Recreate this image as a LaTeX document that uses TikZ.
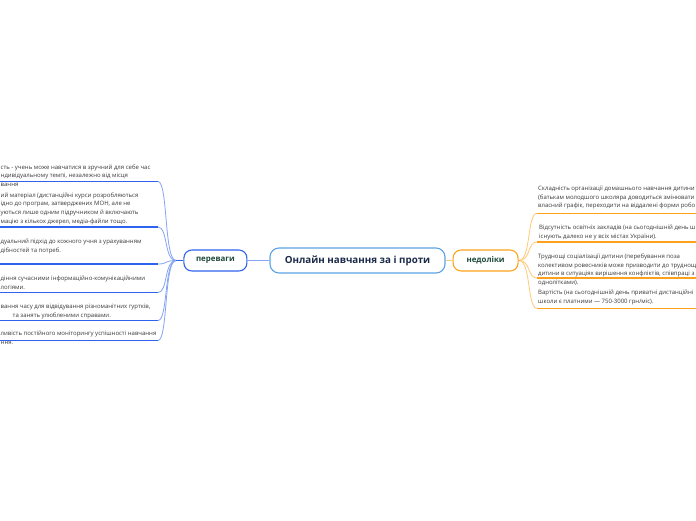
\documentclass[tikz,border=0pt]{standalone}
\usepackage{fontspec}
\setmainfont{Open Sans}
\usetikzlibrary{positioning}
\definecolor{ink}{HTML}{3A3A3A}
\definecolor{navy}{HTML}{1C2B4A}
\definecolor{leaf}{HTML}{1E4A3A}
\definecolor{rootline}{HTML}{5BA3E6}
\definecolor{problue}{HTML}{2F62EE}
\definecolor{prosoft}{HTML}{86A4F4}
\definecolor{conorange}{HTML}{FFA21A}
\definecolor{consoft}{HTML}{FFC977}
\tikzset{
  rootbox/.style={draw=rootline,line width=1.1pt,rounded corners=9pt,fill=white,minimum width=175pt,minimum height=25pt,inner sep=2pt,font=\fontsize{9.8}{11}\selectfont\bfseries,text=navy},
  probox/.style={draw=problue,line width=1.1pt,rounded corners=8pt,fill=white,minimum width=63pt,minimum height=21pt,inner sep=2pt,font=\fontsize{7.9}{9}\selectfont\bfseries,text=leaf},
  conbox/.style={probox,draw=conorange,minimum width=65pt},
  topic/.style={font=\fontsize{6}{8.7}\selectfont,text=ink,align=left,inner sep=0pt,anchor=base west},
  proline/.style={draw=problue,line width=1.5pt},
  procurve/.style={draw=prosoft,line width=0.8pt},
  conline/.style={draw=conorange,line width=1.5pt},
  concurve/.style={draw=consoft,line width=0.8pt},
}
\begin{document}
\begin{tikzpicture}[x=1pt,y=-1pt]
\fill[white] (0,0) rectangle (696,520);
\useasboundingbox (0,0) rectangle (696,520);

\node[rootbox] (root) at (357.5,260.5) {Онлайн навчання за і проти};
\node[probox,left=22pt of root] (pros) {переваги};
\node[conbox,right=7pt of root] (cons) {недоліки};

\coordinate (phub) at (176,260.5);
\coordinate (chub) at (519,260.5);

% переваги (topic nodes sit on the baseline of their last line)
\node[topic] (pt1) at (0.5,186.4) {сть - учень може навчатися в зручний для себе час\\ндивідуальному темпі, незалежно від місця\\вання};
\node[topic] (pt2) at (0.5,223.1) {ий матеріал (дистанційні курси розробляються\\ідно до програм, затверджених МОН, але не\\уються лише одним підручником й включають\\мацію з кількох джерел, медіа-файли тощо.};
\node[topic] (pt3) at (0.5,252.2) {дуальний підхід до кожного учня з урахуванням\\дібностей та потреб.};
\node[topic] (pt4) at (0.5,289.2) {діння сучасними інформаційно-комунікаційними\\логіями.};
\node[topic] (pt5) at (0.5,317.2) {вання часу для відвідування різноманітних гуртків,\\\hspace*{12pt}та занять улюбленими справами.};
\node[topic] (pt6) at (0.5,344.2) {ливість постійного моніторингу успішності навчання\\ння.};

\coordinate (pu1) at (0,181.5);   \coordinate (pk1) at (158,181.5);
\coordinate (pu2) at (0,227);     \coordinate (pk2) at (158,227);
\coordinate (pu3) at (0,264);     \coordinate (pk3) at (158,264);
\coordinate (pu4) at (0,292.5);   \coordinate (pk4) at (158,292.5);
\coordinate (pu5) at (0,320.5);   \coordinate (pk5) at (158,320.5);
\coordinate (pu6) at (0,340.5);   \coordinate (pk6) at (158,340.5);

\draw[proline] (pu1) -- (pk1);
\draw[proline] (pu2) -- (pk2);
\draw[proline] (pu3) -- (pk3);
\draw[proline] (pu4) -- (pk4);
\draw[proline] (pu5) -- (pk5);
\draw[proline] (pu6) -- (pk6);
\draw[procurve] (pk1) .. controls +(10,0) and +(-12,0) .. (phub);
\draw[procurve] (pk2) .. controls +(10,0) and +(-12,0) .. (phub);
\draw[procurve] (pk3) .. controls +(10,0) and +(-12,0) .. (phub);
\draw[procurve] (pk4) .. controls +(10,0) and +(-12,0) .. (phub);
\draw[procurve] (pk5) .. controls +(10,0) and +(-12,0) .. (phub);
\draw[procurve] (pk6) .. controls +(10,0) and +(-12,0) .. (phub);
\draw[proline] (phub) -- (pros);
\draw[procurve,line width=1pt] (pros) -- (root);

% недоліки
\node[topic] (ct1) at (538,207.9) {Складність організації домашнього навчання дитини\\(батькам молодшого школяра доводиться змінювати\\власний графік, переходити на віддалені форми робо};
\node[topic] (ct2) at (539,238.2) {Відсутність освітніх закладів (на сьогоднішній день ш\\існують далеко не у всіх містах України).};
\node[topic] (ct3) at (538,284.6) {Труднощі соціалізації дитини (перебування поза\\колективом ровесників може призводити до труднощ\\дитини в ситуаціях вирішення конфліктів, співпраці з\\однолітками).};
\node[topic] (ct4) at (538,303.4) {Вартість (на сьогоднішній день приватні дистанційні\\школи є платними — 750-3000 грн/міс).};

\coordinate (ck1) at (537,213.3); \coordinate (cu1) at (696,213.3);
\coordinate (ck2) at (537,242);   \coordinate (cu2) at (696,242);
\coordinate (ck3) at (537,278);   \coordinate (cu3) at (696,278);
\coordinate (ck4) at (537,308.3); \coordinate (cu4) at (696,308.3);

\draw[conline] (ck1) -- (cu1);
\draw[conline] (ck2) -- (cu2);
\draw[conline] (ck3) -- (cu3);
\draw[conline] (ck4) -- (cu4);
\draw[concurve] (chub) .. controls +(12,0) and +(-10,0) .. (ck1);
\draw[concurve] (chub) .. controls +(12,0) and +(-10,0) .. (ck2);
\draw[concurve] (chub) .. controls +(12,0) and +(-10,0) .. (ck3);
\draw[concurve] (chub) .. controls +(12,0) and +(-10,0) .. (ck4);
\draw[conline] (cons) -- (chub);
\draw[concurve,line width=1pt] (root) -- (cons);

\end{tikzpicture}
\end{document}
